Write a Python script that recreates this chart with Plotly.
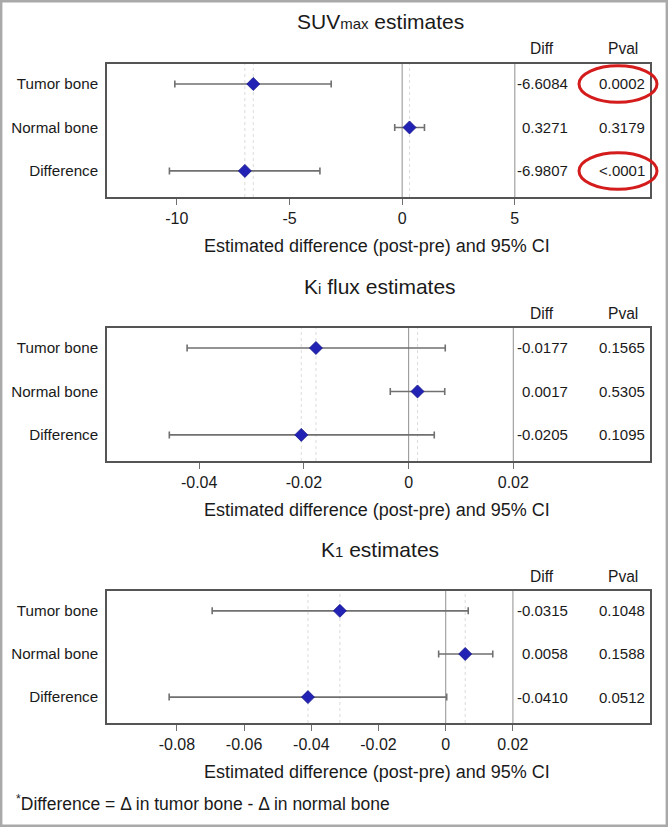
import plotly.graph_objects as go

# ---------------- data ----------------
rows = ["Tumor bone", "Normal bone", "Difference"]
row_pos = [2, 1, 0]

panel_titles = [
    "SUV<span style='font-size:15px'>max</span> estimates",
    "K<span style='font-size:15px'>i</span> flux estimates",
    "K<span style='font-size:15px'>1</span> estimates",
]

suv_est = [-6.6084, 0.3271, -6.9807]
suv_lo = [-10.09, -0.33, -10.33]
suv_hi = [-3.15, 0.99, -3.65]
suv_p = ["0.0002", "0.3179", "<.0001"]

ki_est = [-0.0177, 0.0017, -0.0205]
ki_lo = [-0.0423, -0.0035, -0.0457]
ki_hi = [0.0070, 0.0069, 0.0049]
ki_p = ["0.1565", "0.5305", "0.1095"]

k1_est = [-0.0315, 0.0058, -0.0410]
k1_lo = [-0.0695, -0.0021, -0.0823]
k1_hi = [0.0067, 0.0140, 0.0003]
k1_p = ["0.1048", "0.1588", "0.0512"]

tick_vals = [
    [-10, -5, 0, 5],
    [-0.04, -0.02, 0, 0.02],
    [-0.08, -0.06, -0.04, -0.02, 0, 0.02],
]
tick_text = [
    ["-10", "-5", "0", "5"],
    ["-0.04", "-0.02", "0", "0.02"],
    ["-0.08", "-0.06", "-0.04", "-0.02", "0", "0.02"],
]
x_ranges = [[-13.1, 11.0], [-0.0576, 0.0461], [-0.1008, 0.0608]]
zero_line = [0, 0, 0]
stat_line = [5, 0.02, 0.02]
highlight = [True, False, False]

xlabel = "Estimated difference (post-pre) and 95% CI"
footnote = "<sup>*</sup>Difference = \u0394 in tumor bone - \u0394 in normal bone"

panels = [
    (suv_est, suv_lo, suv_hi, suv_p),
    (ki_est, ki_lo, ki_hi, ki_p),
    (k1_est, k1_lo, k1_hi, k1_p),
]

# ---------------- layout geometry (pixels) ----------------
W, H = 670, 827
box_left, box_right = 107, 650
box_tb = [(64, 197), (328, 461), (591, 723)]


def px(x):
    return x / W


def py(y):
    return 1 - y / H


FONT = "Liberation Sans, Arial, Helvetica, sans-serif"
TXT = "#1a1a1a"

fig = go.Figure()
annotations = []
shapes = []
layout = {}

for i, (est, lo, hi, pv) in enumerate(panels):
    n = "" if i == 0 else str(i + 1)
    xa, ya = "x" + n, "y" + n
    top, bot = box_tb[i]

    fig.add_trace(go.Scatter(
        x=est, y=row_pos, xaxis=xa, yaxis=ya, mode="markers",
        marker=dict(symbol="diamond", size=10, color="#2222b4",
                    line=dict(color="#15158a", width=0.8)),
        error_x=dict(type="data", symmetric=False,
                     array=[h - e for h, e in zip(hi, est)],
                     arrayminus=[e - l for e, l in zip(est, lo)],
                     color="#707070", thickness=1.6, width=3.5),
        showlegend=False, hoverinfo="skip",
    ))

    layout["xaxis" + n] = dict(
        domain=[px(box_left), px(box_right)], anchor=ya,
        range=x_ranges[i], tickvals=tick_vals[i], ticktext=tick_text[i],
        ticks="outside", ticklen=6, tickwidth=1.3, tickcolor="#707070",
        showline=True, mirror=True, linecolor="#555555", linewidth=1.6,
        showgrid=False, zeroline=False,
        tickfont=dict(family=FONT, size=16, color=TXT),
    )
    layout["yaxis" + n] = dict(
        domain=[py(bot), py(top)], anchor=xa,
        range=[-0.6, 2.46], tickvals=row_pos, ticktext=rows,
        ticks="", ticklabelstandoff=4,
        showline=True, mirror=True, linecolor="#555555", linewidth=1.6,
        showgrid=False, zeroline=False,
        tickfont=dict(family=FONT, size=15.2, color=TXT),
    )

    # reference lines
    for xv in (zero_line[i], stat_line[i]):
        shapes.append(dict(type="line", xref=xa, yref=ya + " domain",
                           x0=xv, x1=xv, y0=0, y1=1,
                           line=dict(color="#9a9a9a", width=1.1),
                           layer="below"))
    for e in est:
        shapes.append(dict(type="line", xref=xa, yref=ya + " domain",
                           x0=e, x1=e, y0=0, y1=1,
                           line=dict(color="#dcdcdc", width=1, dash="dot"),
                           layer="below"))

    # title, headers, x label
    annotations.append(dict(text=panel_titles[i], xref="paper", yref="paper",
                            x=px(380), y=py(top - 42), showarrow=False,
                            xanchor="center", yanchor="middle",
                            font=dict(family=FONT, size=21, color=TXT)))
    annotations.append(dict(text="Diff", xref="paper", yref="paper",
                            x=px(542), y=py(top - 15), showarrow=False,
                            xanchor="center", yanchor="middle",
                            font=dict(family=FONT, size=15.6, color=TXT)))
    annotations.append(dict(text="Pval", xref="paper", yref="paper",
                            x=px(623), y=py(top - 15), showarrow=False,
                            xanchor="center", yanchor="middle",
                            font=dict(family=FONT, size=15.6, color=TXT)))
    annotations.append(dict(text=xlabel, xref="paper", yref="paper",
                            x=px(377), y=py(bot + 49), showarrow=False,
                            xanchor="center", yanchor="middle",
                            font=dict(family=FONT, size=18, color=TXT)))

    # Diff / Pval columns
    for r, e, p in zip(row_pos, est, pv):
        annotations.append(dict(text=f"{e:.4f}", xref="paper", yref=ya,
                                x=px(570), y=r, showarrow=False,
                                xanchor="right", yanchor="middle",
                                font=dict(family=FONT, size=15, color=TXT)))
        annotations.append(dict(text=p, xref="paper", yref=ya,
                                x=px(647), y=r, showarrow=False,
                                xanchor="right", yanchor="middle",
                                font=dict(family=FONT, size=15, color=TXT)))

    # red highlight ellipses around significant p-values
    if highlight[i]:
        for r, p in zip(row_pos, pv):
            if p in ("0.0002", "<.0001"):
                shapes.append(dict(type="circle", xref="paper", yref=ya,
                                   x0=px(579), x1=px(657),
                                   y0=r - 0.42, y1=r + 0.42,
                                   line=dict(color="#d41c1c", width=3)))

annotations.append(dict(text=footnote, xref="paper", yref="paper",
                        x=px(14), y=py(803), showarrow=False,
                        xanchor="left", yanchor="middle",
                        font=dict(family=FONT, size=17.5, color=TXT)))

# outer frame
shapes.append(dict(type="rect", xref="paper", yref="paper",
                   x0=px(1.2), x1=px(666.8), y0=py(825.8), y1=py(1.2),
                   line=dict(color="#a9a9a9", width=2.4)))

fig.update_layout(
    width=W, height=H,
    margin=dict(l=0, r=0, t=0, b=0),
    paper_bgcolor="white", plot_bgcolor="white",
    annotations=annotations, shapes=shapes,
    **layout,
)

fig.write_html("out.html",
               config={"displayModeBar": False},
               post_script="document.body.style.margin='0';"
                           "document.body.style.overflow='hidden';")
